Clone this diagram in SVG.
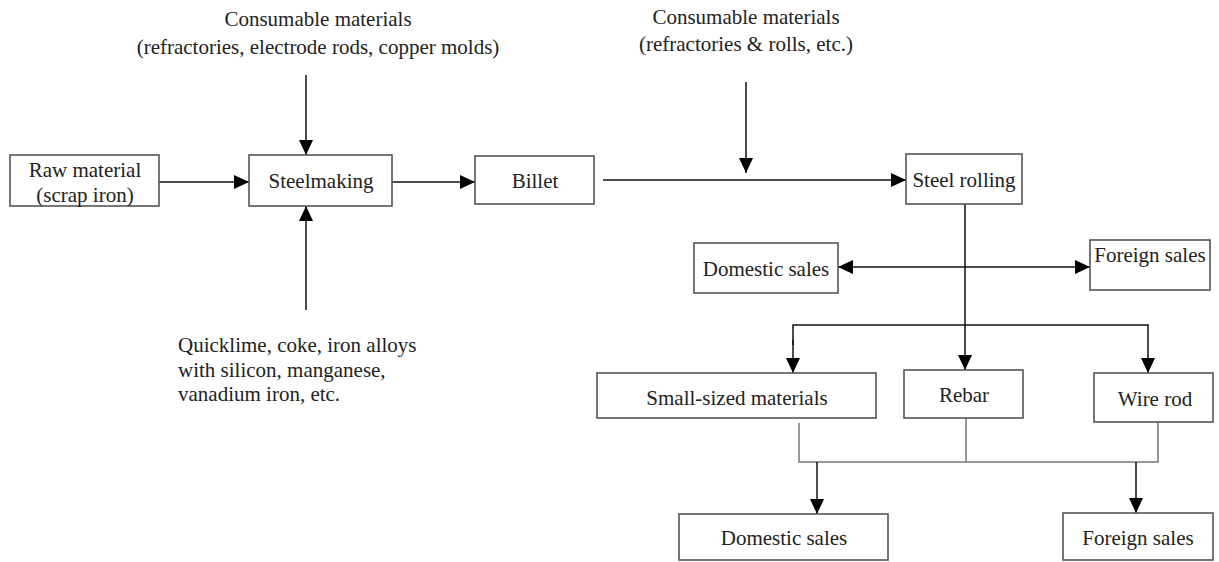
<svg xmlns="http://www.w3.org/2000/svg" width="1219" height="562" viewBox="0 0 1219 562">
  <style>
    .box { fill: #ffffff; stroke: #555555; stroke-width: 1.6; }
    .lbl { font-family: "Liberation Serif", "Times New Roman", Times, Tinos, "DejaVu Serif", serif; font-size: 21px; fill: #222222; text-anchor: middle; }
    .left { text-anchor: start; }
    .ln { fill: none; stroke: #111111; stroke-width: 1.5; }
    .ln-soft { fill: none; stroke: #777777; stroke-width: 1.5; }
  </style>
  <defs>
    <marker id="arrow" markerUnits="userSpaceOnUse" markerWidth="15" markerHeight="14" refX="15" refY="7" orient="auto">
      <path d="M0,0 L15,7 L0,14 z" fill="#000000"/>
    </marker>
    <marker id="arrow-start" markerUnits="userSpaceOnUse" markerWidth="15" markerHeight="14" refX="0" refY="7" orient="auto">
      <path d="M15,0 L0,7 L15,14 z" fill="#000000"/>
    </marker>
  </defs>
  <rect width="1219" height="562" fill="#ffffff"/>

  <!-- free-standing input labels -->
  <g id="input-consumables-steelmaking" font-family="Liberation Serif, serif">
    <text class="lbl" x="318" y="26">Consumable materials</text>
    <text class="lbl" x="318" y="54">(refractories, electrode rods, copper molds)</text>
  </g>
  <g id="input-consumables-rolling">
    <text class="lbl" x="746" y="24">Consumable materials</text>
    <text class="lbl" x="746" y="51">(refractories &amp; rolls, etc.)</text>
  </g>
  <g id="input-additives">
    <text class="lbl left" x="178" y="352">Quicklime, coke, iron alloys</text>
    <text class="lbl left" x="178" y="377">with silicon, manganese,</text>
    <text class="lbl left" x="178" y="401">vanadium iron, etc.</text>
  </g>

  <!-- connectors -->
  <g id="connectors">
    <line class="ln" x1="159" y1="182" x2="249" y2="182" marker-end="url(#arrow)"/>
    <line class="ln" x1="306" y1="75" x2="306" y2="155" marker-end="url(#arrow)"/>
    <line class="ln" x1="306" y1="310" x2="306" y2="206" marker-end="url(#arrow)"/>
    <line class="ln" x1="392" y1="182" x2="475" y2="182" marker-end="url(#arrow)"/>
    <line class="ln" x1="603" y1="180" x2="906" y2="180" marker-end="url(#arrow)"/>
    <line class="ln" x1="746" y1="82" x2="746" y2="173" marker-end="url(#arrow)"/>
    <line class="ln" x1="838" y1="267" x2="1090" y2="267" marker-start="url(#arrow-start)" marker-end="url(#arrow)"/>
    <line class="ln" x1="965" y1="204" x2="965" y2="370" marker-end="url(#arrow)"/>
    <polyline class="ln" points="793,345 793,325 1148,325 1148,373" marker-end="url(#arrow)"/>
    <line class="ln" x1="793" y1="340" x2="793" y2="373" marker-end="url(#arrow)"/>
    <polyline class="ln-soft" points="799,423 799,462 1158,462 1158,422"/>
    <line class="ln-soft" x1="966" y1="418" x2="966" y2="462"/>
    <line class="ln" x1="817" y1="462" x2="817" y2="514" marker-end="url(#arrow)"/>
    <line class="ln" x1="1136" y1="462" x2="1136" y2="513" marker-end="url(#arrow)"/>
  </g>

  <!-- process nodes -->
  <g id="node-raw-material">
    <rect class="box" x="10" y="155" width="149" height="51"/>
    <text class="lbl" x="85" y="177">Raw material</text>
    <text class="lbl" x="85" y="202">(scrap iron)</text>
  </g>
  <g id="node-steelmaking">
    <rect class="box" x="249" y="155" width="143" height="51"/>
    <text class="lbl" x="321" y="188">Steelmaking</text>
  </g>
  <g id="node-billet">
    <rect class="box" x="475" y="156" width="119" height="48"/>
    <text class="lbl" x="535" y="188">Billet</text>
  </g>
  <g id="node-steel-rolling">
    <rect class="box" x="906" y="154" width="116" height="50"/>
    <text class="lbl" x="964" y="187">Steel rolling</text>
  </g>
  <g id="node-domestic-sales-upper">
    <rect class="box" x="694" y="243" width="144" height="50"/>
    <text class="lbl" x="766" y="276">Domestic sales</text>
  </g>
  <g id="node-foreign-sales-upper">
    <rect class="box" x="1090" y="240" width="120" height="50"/>
    <text class="lbl" x="1150" y="262">Foreign sales</text>
  </g>
  <g id="node-small-sized">
    <rect class="box" x="597" y="373" width="279" height="45"/>
    <text class="lbl" x="737" y="405">Small-sized materials</text>
  </g>
  <g id="node-rebar">
    <rect class="box" x="904" y="370" width="119" height="48"/>
    <text class="lbl" x="964" y="402">Rebar</text>
  </g>
  <g id="node-wire-rod">
    <rect class="box" x="1094" y="373" width="119" height="49"/>
    <text class="lbl" x="1155" y="406">Wire rod</text>
  </g>
  <g id="node-domestic-sales-lower">
    <rect class="box" x="679" y="514" width="209" height="46"/>
    <text class="lbl" x="784" y="545">Domestic sales</text>
  </g>
  <g id="node-foreign-sales-lower">
    <rect class="box" x="1063" y="513" width="150" height="47"/>
    <text class="lbl" x="1138" y="545">Foreign sales</text>
  </g>
</svg>
